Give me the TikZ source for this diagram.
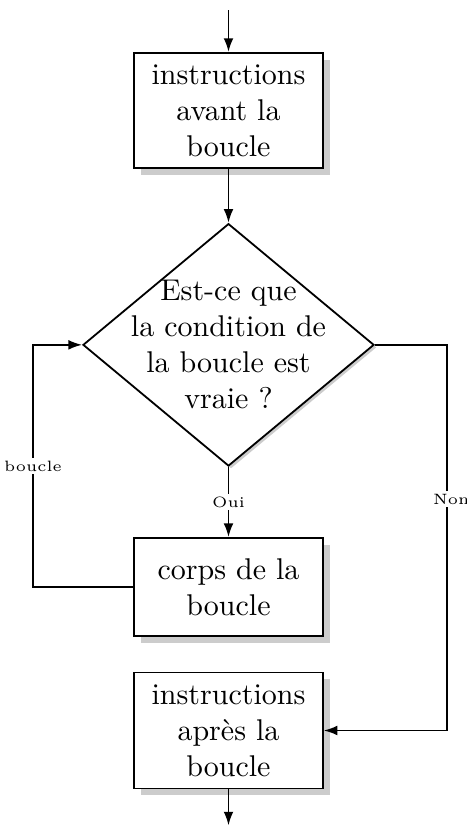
\documentclass[tikz,border=0pt]{standalone}
\usepackage{tikz}
\usetikzlibrary{shapes.geometric, arrows.meta, positioning, shadows}

\begin{document}
\begin{tikzpicture}[
				>={Latex[length=1.6mm, width=1.15mm]},
				semithick,
				Label/.style={fill=white, font=\tiny, inner sep=1pt}
			]
			\tikzstyle{Block} = [ %boxes with a shadow
				rectangle,
				text centered,
				align=center,
				draw=black,
				fill=white,
				minimum width=2.21cm,
				drop shadow={shadow xshift=0.08cm, shadow yshift=-0.08cm, fill=black!20, opacity=1}
			]
			\tikzstyle{Test} = [
				diamond,
				aspect=1.2,
				align=center,
				draw=black,
				fill=white,
				inner sep=-6pt,
				minimum width=3.41cm,
				minimum height=2.84cm,
				drop shadow={shadow xshift=0.03cm, shadow yshift=-0.03cm, fill=black!20, opacity=1}
			]
			\useasboundingbox (0,0) rectangle (5.471,-9.677);

			\coordinate (debut) at (2.677,-0.12);
			\node (avant) [Block, minimum height=1.35cm] at (2.677,-1.294) {instructions\\avant la\\boucle};
			\node (test) [Test] at (2.677,-4.04) {Est-ce que\\la condition de\\la boucle est\\vraie ?};
			\node (corps) [Block, minimum height=1.15cm] at (2.677,-6.877) {corps de la\\boucle};
			\node (apres) [Block, minimum height=1.36cm] at (2.677,-8.558) {instructions\\apr\`es la\\boucle};
			\coordinate (fin) at (2.677,-9.67);
			\coordinate (gauche) at (0.387,-6.877);
			\coordinate (droiteH) at (5.237,-4.04);
			\coordinate (droiteB) at (5.237,-8.558);

			\draw[->] (debut) -- (avant);
			\draw[->] (avant) -- (test);
			\draw[->] (test) -- node [Label] {Oui} (corps);
			\draw[->] (corps.west) -- (gauche) |- node [Label, pos=0.25] {boucle} (test.west);
			\draw[->] (test.east) -- (droiteH) -- node [Label, pos=0.4, xshift=0.05cm] {Non} (droiteB) -- (apres.east);
			\draw[->] (apres) -- (fin);
		\end{tikzpicture}
\end{document}
